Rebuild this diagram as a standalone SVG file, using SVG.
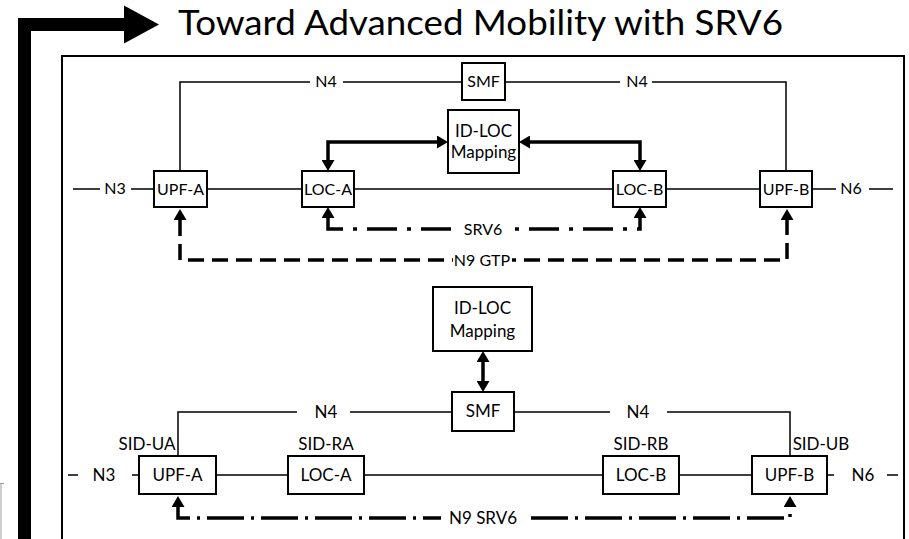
<svg xmlns="http://www.w3.org/2000/svg" width="909" height="539" viewBox="0 0 909 539">
<style>
text{font-family:Lato,"Open Sans","Liberation Sans",sans-serif;fill:#000;text-anchor:middle}
.t{font-size:16px}
.b{font-size:17px}
.box{fill:#fff;stroke:#000;stroke-width:2}
.thin{fill:none;stroke:#000;stroke-width:1.5}
.thick{fill:none;stroke:#000;stroke-width:3.5;marker-start:url(#ah);marker-end:url(#ah)}
.dashA{stroke-dasharray:30 10 4 10;stroke-dashoffset:4}
.dashG{stroke-dasharray:16 8}
.dashB{stroke-dasharray:37 7 3 7;stroke-dashoffset:14}
.bg{fill:#fff}
</style>
<defs>
<marker id="ah" viewBox="0 0 11 13" refX="0" refY="6.5" markerWidth="11" markerHeight="13" markerUnits="userSpaceOnUse" orient="auto-start-reverse">
<path d="M0,0 L11,6.5 L0,13 z" fill="#000"/>
</marker>
</defs>
<rect width="909" height="539" fill="#fff"/>
<g id="title-arrow">
<path d="M18,539 V18 H124 V31 H31 V539 z" fill="#000"/>
<path d="M124,5.5 L159,24.5 L124,43.5 z" fill="#000"/>
<text x="178" y="35" style="font-size:35px;text-anchor:start" textLength="605" lengthAdjust="spacingAndGlyphs">Toward Advanced Mobility with SRV6</text>
</g>
<g id="frame">
<rect x="62" y="56" width="842" height="500" fill="none" stroke="#000" stroke-width="2"/>
<path d="M0,483.5 H4 M1,483 V539" fill="none" stroke="#9a9a9a" stroke-width="1"/>
</g>
<g id="connectors">
<path class="thin" d="M180,171 V82 H310 M343,82 H462"/>
<path class="thin" d="M505,82 H620 M652,82 H786 V171"/>
<path class="thin" d="M73,189 H100 M131,189 H154"/>
<path class="thin" d="M207,189 H302 M354,189 H613 M666,189 H760"/>
<path class="thin" d="M812,189 H836 M869,189 H893"/>
<path class="thick" d="M328,160 V142 H437"/>
<path class="thick" d="M530,142 H640 V160"/>
<path class="thick dashA" d="M328,218 V229 H640 V218"/>
<path class="thick dashG" d="M180,220 V260 H787 V220"/>
<rect class="bg" x="455" y="221" width="56" height="17"/>
<rect class="bg" x="453" y="252" width="59" height="17"/>
<text class="t" x="326" y="87">N4</text>
<text class="t" x="637" y="87">N4</text>
<text class="t" x="115" y="194">N3</text>
<text class="t" x="851" y="194">N6</text>
<text class="t" x="483" y="235">SRV6</text>
<text class="t" x="482" y="266">N9 GTP</text>
<path class="thick" d="M483,362 V381"/>
<path class="thin" d="M178,456 V412 H297 M350,412 H452"/>
<path class="thin" d="M514,412 H610 M667,412 H790 V456"/>
<path class="thin" d="M68,475 H78 M132,475 H139"/>
<path class="thin" d="M216,475 H288 M364,475 H603 M679,475 H752"/>
<path class="thin" d="M827,475 H834 M887,475 H898"/>
<path class="thick dashB" d="M178,507 V518 H790 V507"/>
<rect class="bg" x="441" y="509" width="88" height="18"/>
<text class="b" x="326" y="418">N4</text>
<text class="b" x="638" y="418">N4</text>
<text class="b" x="104" y="481">N3</text>
<text class="b" x="863" y="481">N6</text>
<text class="b" x="483" y="524">N9 SRV6</text>
</g>
<g id="smf-top"><rect class="box" x="462" y="63" width="43" height="37"/><text class="t" x="483.5" y="87">SMF</text></g>
<g id="idloc-top"><rect class="box" x="448" y="110" width="71" height="63"/><text class="b" x="483.5" y="137">ID-LOC</text><text class="b" x="483.5" y="158">Mapping</text></g>
<g id="upfa-top"><rect class="box" x="154" y="171" width="53" height="36"/><text class="t" x="180.5" y="194.5">UPF-A</text></g>
<g id="loca-top"><rect class="box" x="302" y="171" width="52" height="36"/><text class="t" x="328" y="194.5">LOC-A</text></g>
<g id="locb-top"><rect class="box" x="613" y="171" width="53" height="36"/><text class="t" x="639.5" y="194.5">LOC-B</text></g>
<g id="upfb-top"><rect class="box" x="760" y="171" width="52" height="36"/><text class="t" x="786" y="194.5">UPF-B</text></g>
<g id="idloc-bottom"><rect class="box" x="433" y="287" width="99" height="64"/><text class="b" x="482.5" y="314">ID-LOC</text><text class="b" x="482.5" y="337">Mapping</text></g>
<g id="smf-bottom"><rect class="box" x="452" y="392" width="62" height="39"/><text class="b" x="483" y="417">SMF</text></g>
<g id="upfa-bottom"><rect class="box" x="139" y="456" width="77" height="38"/><text class="b" x="177.5" y="481">UPF-A</text><text class="b" x="147" y="450">SID-UA</text></g>
<g id="loca-bottom"><rect class="box" x="288" y="456" width="76" height="38"/><text class="b" x="326" y="481">LOC-A</text><text class="b" x="326" y="450">SID-RA</text></g>
<g id="locb-bottom"><rect class="box" x="603" y="456" width="76" height="38"/><text class="b" x="641" y="481">LOC-B</text><text class="b" x="641" y="450">SID-RB</text></g>
<g id="upfb-bottom"><rect class="box" x="752" y="456" width="75" height="38"/><text class="b" x="789.5" y="481">UPF-B</text><text class="b" x="821" y="450">SID-UB</text></g>
</svg>
